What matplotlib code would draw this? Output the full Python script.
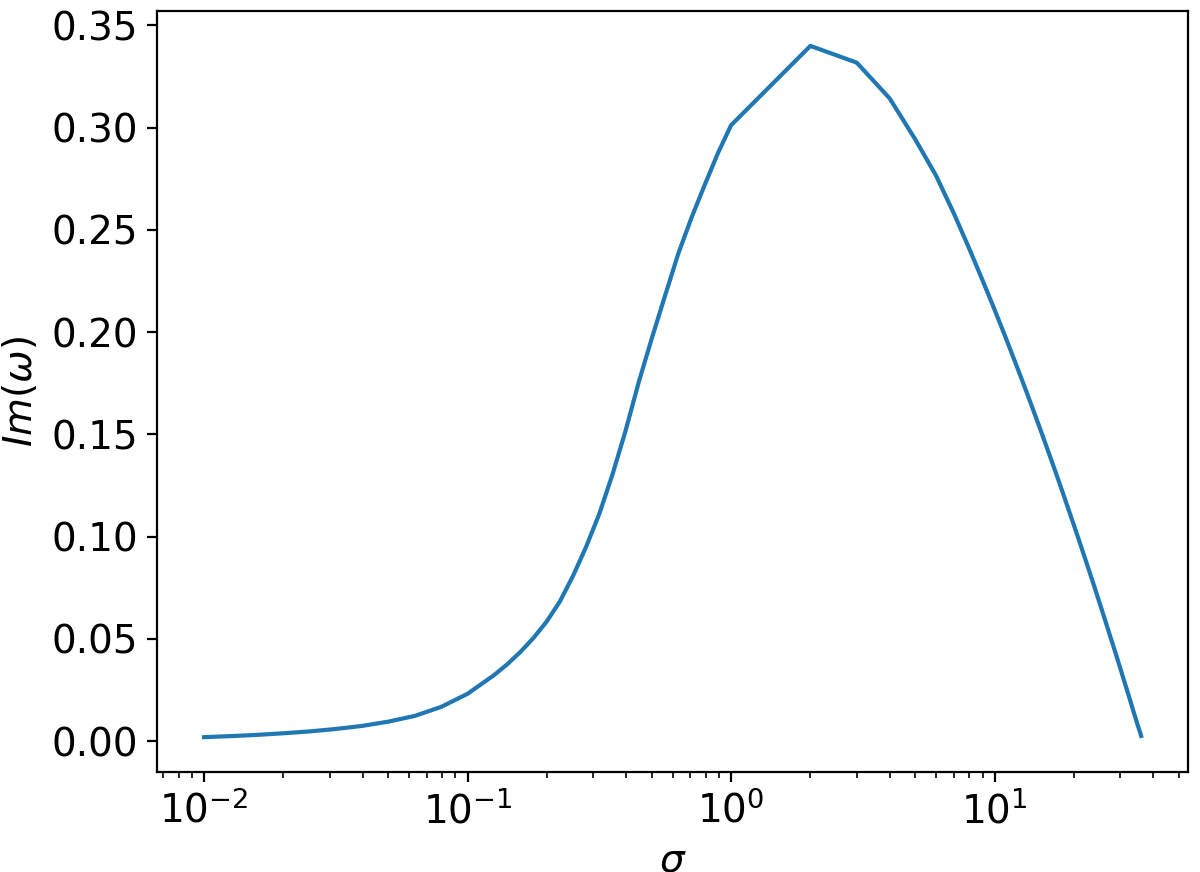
import numpy as np
import matplotlib
matplotlib.use("Agg")
import matplotlib.pyplot as plt

# sigma values, fine log spacing below 1, then integer steps up to 36
sigma_low = [0.01, 0.0126, 0.0158, 0.02, 0.0251, 0.0316, 0.0398, 0.0501, 0.0631,
             0.0794, 0.1, 0.1259, 0.1413, 0.1585, 0.1778, 0.1995, 0.2239, 0.2512,
             0.2818, 0.3162, 0.3548, 0.3981, 0.4467, 0.5012, 0.5623, 0.631,
             0.7079, 0.7943, 0.8913]
im_low = [0.0019, 0.0024, 0.0030, 0.0038, 0.0047, 0.0059, 0.0074, 0.0095, 0.0123,
          0.0167, 0.0231, 0.0322, 0.0375, 0.0435, 0.0504, 0.0584, 0.0682, 0.0807,
          0.0950, 0.1111, 0.1304, 0.1519, 0.1757, 0.1973, 0.2180, 0.2385,
          0.2560, 0.2720, 0.2875]

sigma_high = list(range(1, 37))
im_high = [0.3012, 0.3400, 0.3318, 0.3143, 0.2943, 0.2765, 0.2582, 0.2411, 0.2254,
           0.2110, 0.1976, 0.1850, 0.1733, 0.1621, 0.1516, 0.1415, 0.1320, 0.1228,
           0.1140, 0.1056, 0.0975, 0.0897, 0.0822, 0.0749, 0.0678, 0.0610, 0.0543,
           0.0479, 0.0417, 0.0356, 0.0296, 0.0239, 0.0182, 0.0127, 0.0075, 0.0025]

sigma = np.array(sigma_low + sigma_high, dtype=float)
im_omega = np.array(im_low + im_high)

fig, ax = plt.subplots(figsize=(6, 4.36), dpi=200)
fig.subplots_adjust(left=0.131, right=0.99, top=0.987, bottom=0.115)

ax.plot(sigma, im_omega)
ax.set_xscale("log")
ax.set_xlabel(r"$\sigma$", fontsize=14)
ax.set_ylabel(r"$Im(\omega)$", fontsize=14)
ax.tick_params(labelsize=14)

fig.savefig("out.png", dpi=200)
